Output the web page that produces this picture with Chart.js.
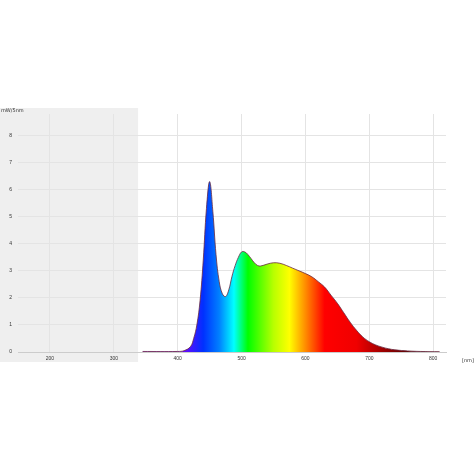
<!DOCTYPE html>
<html>
<head>
<meta charset="utf-8"/>
<script src="https://cdn.jsdelivr.net/npm/chart.js"></script>
<style>
body{margin:0;background:#fff}
.box{width:474px;height:474px;position:relative}
</style>
</head>
<body>
<div class="box"><canvas id="c" width="474" height="474"></canvas></div>
<script>
const wavelengths=[345,400,410,420,425,430,435,440,445,450,455,460,465,470,475,480,485,490,495,500,505,510,515,520,525,530,540,550,560,570,580,590,600,610,620,630,640,650,660,670,680,690,700,710,720,730,740,760,780,810];
const power=[0.02,0.02,0.05,0.2,0.5,1.0,1.9,3.4,5.3,6.3,5.2,3.6,2.6,2.15,2.05,2.3,2.8,3.2,3.5,3.7,3.7,3.6,3.45,3.3,3.2,3.18,3.25,3.3,3.28,3.2,3.1,3.0,2.9,2.78,2.6,2.4,2.1,1.8,1.45,1.1,0.8,0.55,0.38,0.26,0.18,0.12,0.08,0.04,0.02,0.01];
const xTicks=[200,300,400,500,600,700,800];
const yTicks=[0,1,2,3,4,5,6,7,8];
const spectrum=[[405,'#7a00ff'],[440,'#0030ff'],[465,'#0080ff'],[488,'#00ffff'],[510,'#00ff00'],[550,'#b8ff00'],[575,'#ffff00'],[600,'#ff8c00'],[630,'#ff0000'],[680,'#f00000'],[720,'#a00000'],[780,'#400000']];

const shade={id:'shade',beforeDraw(ch){
  const c=ch.ctx,x=ch.scales.x;
  c.save();c.fillStyle='#efefef';
  c.fillRect(0,108,x.getPixelForValue(338),254);
  c.restore();
},afterDraw(ch){
  const c=ch.ctx,a=ch.chartArea;
  c.save();c.fillStyle='#333';c.font='5px "DejaVu Sans"';
  c.fillText('mW/5nm',1,112);
  c.fillText('[nm]',a.right+16,a.bottom+10);
  c.restore();
}};

function grad(ctx){
  const ch=ctx.chart,a=ch.chartArea;if(!a)return null;
  const x=ch.scales.x,g=ch.ctx.createLinearGradient(a.left,0,a.right,0),w=a.right-a.left;
  spectrum.forEach(([nm,col])=>g.addColorStop(Math.min(1,Math.max(0,(x.getPixelForValue(nm)-a.left)/w)),col));
  return g;
}

new Chart(document.getElementById('c'),{
  type:'line',
  data:{datasets:[{data:wavelengths.map((w,i)=>({x:w,y:power[i]})),fill:'origin',backgroundColor:grad,borderColor:'#6a2a40',borderWidth:0.8,pointRadius:0,tension:0.4}]},
  plugins:[shade],
  options:{responsive:false,animation:false,
    layout:{padding:{left:0,top:114,right:28,bottom:110}},
    plugins:{legend:{display:false},tooltip:{enabled:false}},
    scales:{
      x:{type:'linear',min:150,max:820,afterBuildTicks:s=>{s.ticks=xTicks.map(v=>({value:v}))},
        afterFit:s=>{s.height=12},
        grid:{color:'#e4e4e4',drawTicks:false},border:{color:'#ccc'},
        ticks:{font:{size:5},color:'#333',padding:4}},
      y:{min:0,max:8.8,afterBuildTicks:s=>{s.ticks=yTicks.map(v=>({value:v}))},
        afterFit:s=>{s.width=18},
        grid:{color:'#e4e4e4',drawTicks:false},border:{display:false},
        ticks:{font:{size:5},color:'#333',padding:6}}
    }
  }
});
</script>
</body>
</html>
